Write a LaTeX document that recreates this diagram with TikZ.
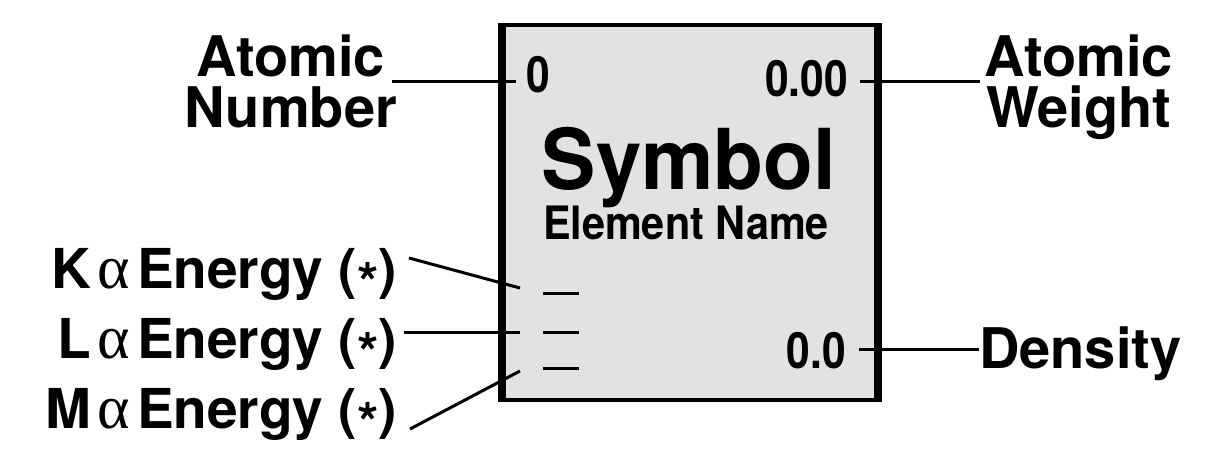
\documentclass[tikz,border=0pt]{standalone}
\usepackage{fontspec}
\setmainfont{TeX Gyre Heros}
\newfontfamily\greekfont{Liberation Serif}
\definecolor{boxgray}{RGB}{225,226,228}
\newcommand{\alp}{\hspace{0.12em}{\greekfont\mdseries\fontsize{62}{51}\selectfont α}\hspace{0.12em}}
\newcommand{\starsym}{(\raisebox{-0.27em}{*})}
\begin{document}
\begin{tikzpicture}[x=1pt,y=-1pt,
  lbl/.style={inner sep=0pt,font=\fontsize{56}{51}\selectfont\bfseries,align=center},
  elbl/.style={inner sep=0pt,font=\fontsize{55}{51}\selectfont\bfseries},
  val/.style={inner sep=0pt,font=\fontsize{50}{50}\selectfont\bfseries},
  leader/.style={line width=3pt},
  dashmark/.style={line width=3pt}]
\useasboundingbox (0,0) rectangle (1210,457);
% box
\node[fill=boxgray,inner sep=0pt,minimum width=376pt,minimum height=375pt] (box) at (690,212.5) {};
\draw[line width=8pt] ([yshift=2pt]box.north west) -- ([yshift=-2pt]box.south west);
\draw[line width=8pt] ([yshift=2pt]box.north east) -- ([yshift=-2pt]box.south east);
\draw[line width=4pt] ([xshift=-4pt]box.north west) -- ([xshift=4pt]box.north east);
\draw[line width=4pt] ([xshift=-4pt]box.south west) -- ([xshift=4pt]box.south east);
% inside texts
\node[val,anchor=base west] (anum) at (526,93) {\scalebox{0.85}[1]{0}};
\node[val,anchor=base east] (awt) at (848,97) {\scalebox{0.85}[1]{0.00}};
\node[val,anchor=base east] (dens) at (846,368) {\scalebox{0.85}[1]{0.0}};
\node[inner sep=0pt,anchor=base,font=\fontsize{84}{84}\selectfont\bfseries] (sym) at (689,190) {\scalebox{0.97}[1]{Symbol}};
\node[inner sep=0pt,anchor=base,font=\fontsize{46}{46}\selectfont\bfseries] (ename) at (686,240) {\scalebox{0.9}[1]{Element Name}};
% dashes
\coordinate (k1) at (543,293); \coordinate (k2) at (579,293);
\coordinate (l1) at (543,332); \coordinate (l2) at (579,332);
\coordinate (m1) at (543,368); \coordinate (m2) at (579,368);
\draw[dashmark] (k1) -- (k2);
\draw[dashmark] (l1) -- (l2);
\draw[dashmark] (m1) -- (m2);
% outside labels
\node[lbl,anchor=base] (lnum) at (291,128) {Atomic\\Number};
\node[lbl,anchor=base] (lwt) at (1079,128) {Atomic\\Weight};
\node[lbl,anchor=base west] (ldens) at (979,368) {Density};
\node[elbl,anchor=base east] (lk) at (397,288) {K\alp Energy \starsym};
\node[elbl,anchor=base east] (ll) at (397,358) {L\alp Energy \starsym};
\node[elbl,anchor=base east] (lm) at (397,428) {M\alp Energy \starsym};
% leader lines
\coordinate (an0) at (392,82); \coordinate (an1) at (516,82);
\coordinate (aw0) at (860,82); \coordinate (aw1) at (980,82);
\coordinate (de0) at (859,349); \coordinate (de1) at (979,349);
\coordinate (ka0) at (409,258); \coordinate (ka1) at (520,288);
\coordinate (la0) at (404,332); \coordinate (la1) at (520,332);
\coordinate (ma0) at (410,429); \coordinate (ma1) at (520,371);
\draw[leader] (an0) -- (an1);
\draw[leader] (aw0) -- (aw1);
\draw[leader] (de0) -- (de1);
\draw[leader] (ka0) -- (ka1);
\draw[leader] (la0) -- (la1);
\draw[leader] (ma0) -- (ma1);
\end{tikzpicture}
\end{document}
